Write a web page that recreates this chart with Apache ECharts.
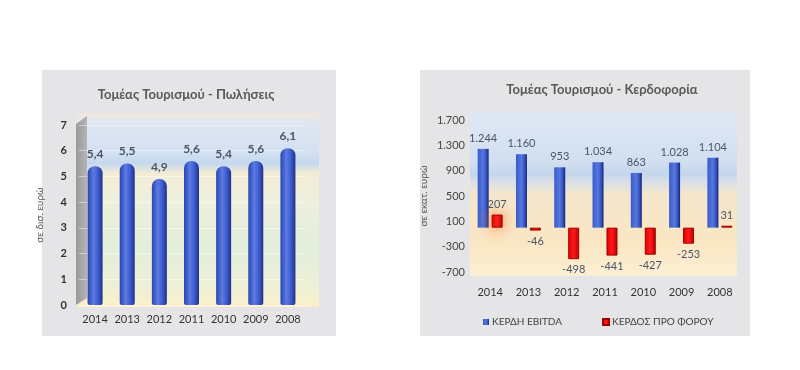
<!DOCTYPE html>
<html><head><meta charset="utf-8">
<script src="https://cdn.jsdelivr.net/npm/echarts@6/dist/echarts.min.js"></script>
<style>html,body{margin:0;padding:0;background:#fff}#c{width:800px;height:370px}</style>
</head><body><div id="c"></div>
<script>
const years = ['2014','2013','2012','2011','2010','2009','2008'];
const salesTitle = 'Τομέας Τουρισμού - Πωλήσεις';
const salesAxisName = 'σε δισ. ευρώ';
const sales = [5.4, 5.5, 4.9, 5.6, 5.4, 5.6, 6.1];
const profitTitle = 'Τομέας Τουρισμού - Κερδοφορία';
const profitAxisName = 'σε εκατ. ευρώ';
const ebitdaName = 'ΚΕΡΔΗ EBITDA';
const pretaxName = 'ΚΕΡΔΟΣ ΠΡΟ ΦΟΡΟΥ';
const ebitda = [1244, 1160, 953, 1034, 863, 1028, 1104];
const pretax = [207, -46, -498, -441, -427, -253, 31];

const FONT = 'Lato';
const fmtComma = v => String(v).replace('.', ',');
const fmtThousands = v => {
  const s = String(Math.abs(v)).replace(/\B(?=(\d{3})+(?!\d))/g, '.');
  return (v < 0 ? '-' : '') + s;
};
const lin = (stops, horiz) => ({type:'linear', x:0, y:0, x2: horiz?1:0, y2: horiz?0:1,
  colorStops: stops.map(s => ({offset:s[0], color:s[1]}))});

const chart = echarts.init(document.getElementById('c'), null, {renderer:'canvas'});
chart.setOption({
  animation: false,
  textStyle: {fontFamily: FONT},
  graphic: [
    {type:'rect', z:-10, shape:{x:42,y:70,width:294,height:266}, style:{fill:'#e5e5e7'}},
    {type:'rect', z:-9, shape:{x:77,y:113,width:242,height:194}, style:{fill: lin([
      [0,'#f5e7da'],[0.05,'#dfe7f3'],[0.2,'#d4e1f2'],[0.26,'#c5d8ee'],[0.31,'#f3ecd6'],
      [0.45,'#edf0dc'],[0.7,'#e3eedb'],[0.9,'#eef0d6'],[1,'#fcefc8']])}},
    {type:'polygon', z:-8, shape:{points:[[76,124],[87,116],[87,298],[76,305]]},
      style:{fill: lin([[0,'#9a9a9a'],[1,'#b4b4b4']], true)}},
    {type:'rect', z:-10, shape:{x:420,y:70,width:330,height:266}, style:{fill:'#e5e5e7'}},
    {type:'rect', z:-9, shape:{x:470,y:112,width:267,height:164}, style:{fill: lin([
      [0,'#dfe8f5'],[0.3,'#d2dff0'],[0.38,'#c3d6ec'],[0.43,'#dbe0e6'],[0.5,'#f4e6cc'],
      [0.8,'#fae6c2'],[1,'#fcefd4']])}}
  ],
  title: [
    {text: salesTitle, left: 181, top: 83, textAlign:'center',
      textStyle:{fontFamily:FONT, fontSize:13, fontWeight:'bold', color:'#595959'}},
    {text: profitTitle, left: 597, top: 78, textAlign:'center',
      textStyle:{fontFamily:FONT, fontSize:13, fontWeight:'bold', color:'#595959'}}
  ],
  legend: {
    data:[ebitdaName, pretaxName], left: 478, top: 312, itemWidth: 6, itemHeight: 6,
    itemGap: 40, icon:'rect',
    textStyle:{fontFamily:FONT, fontSize:10, color:'#404040', padding:[0,0,0,-2]}
  },
  grid: [
    {left: 79, right: 800-304, top: 125, bottom: 370-305, containLabel:false},
    {left: 471, right: 800-739, top: 120, bottom: 370-272, containLabel:false}
  ],
  xAxis: [
    {type:'category', gridIndex:0, data: years,
      axisLine:{show:false}, axisTick:{show:false},
      axisLabel:{interval:0, margin:9, fontFamily:FONT, fontSize:11, color:'#333'}},
    {type:'category', gridIndex:1, data: years,
      axisLine:{show:false}, axisTick:{show:false},
      axisLabel:{interval:0, margin:15, fontFamily:FONT, fontSize:11, color:'#333'}}
  ],
  yAxis: [
    {type:'value', gridIndex:0, min:0, max:7, interval:1,
      name: salesAxisName, nameLocation:'middle', nameGap:34, nameRotate:90,
      nameTextStyle:{fontFamily:FONT, fontSize:10, color:'#555'},
      axisLine:{show:false}, axisTick:{show:false},
      axisLabel:{margin:12, fontFamily:FONT, fontSize:11, fontWeight:'bold', color:'#333'},
      splitLine:{show:true, lineStyle:{color:'rgba(255,255,255,0.45)', width:1}}},
    {type:'value', gridIndex:1, min:-700, max:1700, interval:400,
      name: profitAxisName, nameLocation:'middle', nameGap:42, nameRotate:90,
      nameTextStyle:{fontFamily:FONT, fontSize:10, color:'#555'},
      axisLine:{show:false}, axisTick:{show:false},
      axisLabel:{margin:6, fontFamily:FONT, fontSize:11, color:'#444', formatter: fmtThousands},
      splitLine:{show:false}}
  ],
  series: [
    {type:'bar', xAxisIndex:0, yAxisIndex:0, data: sales, barWidth: 15,
      itemStyle:{borderRadius:[7,7,2,2], color: lin([[0,'#2b45b0'],[0.4,'#5b7be2'],[0.7,'#3d5bd0'],[1,'#1e3288']], true)},
      label:{show:true, position:'top', distance:6, formatter: p => fmtComma(p.value),
        fontFamily:FONT, fontSize:12, fontWeight:'bold', color:'#4b5668'}},
    {type:'bar', name: ebitdaName, xAxisIndex:1, yAxisIndex:1, data: ebitda, barWidth: 11, barGap:'27%',
      itemStyle:{color: lin([[0,'#3a5ccc'],[0.5,'#5677dc'],[0.8,'#3350c0'],[1,'#16206a']], true)},
      label:{show:true, position:'top', distance:5, formatter: p => fmtThousands(p.value),
        fontFamily:FONT, fontSize:11, color:'#4b5668'}},
    {type:'bar', name: pretaxName, xAxisIndex:1, yAxisIndex:1, barWidth: 11,
      data: pretax.map((v, i) => ({value: v,
        label:{position: v < 0 ? 'bottom' : 'top'},
        itemStyle: i === 0 ? {shadowBlur:14, shadowColor:'rgba(255,110,20,0.9)'} : {}})),
      itemStyle:{color: lin([[0,'#e00000'],[0.5,'#ff1a1a'],[1,'#b00000']], true), borderColor:'#a00000', borderWidth:1},
      label:{show:true, distance:5, formatter: p => fmtThousands(p.value),
        fontFamily:FONT, fontSize:11, color:'#4b5668'}}
  ]
});
</script></body></html>
